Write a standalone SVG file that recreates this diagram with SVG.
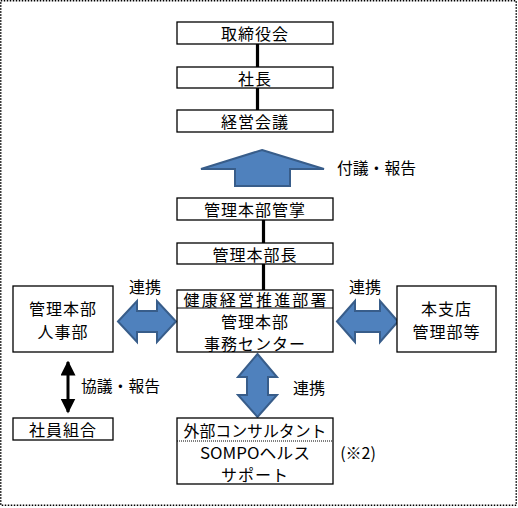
<svg xmlns="http://www.w3.org/2000/svg" width="518" height="508" viewBox="0 0 518 508">
<style>
text{font-family:"Noto Sans CJK JP","Noto Sans",sans-serif;font-size:16px;fill:#000;dominant-baseline:central;text-anchor:middle}
.box{fill:#fff;stroke:#000;stroke-width:1.3}
.blue{fill:#4F81BD;stroke:#385D8A;stroke-width:2;stroke-linejoin:miter}
.ln{stroke:#000;stroke-width:3.2;fill:none}
</style>
<defs>
<marker id="ah" viewBox="0 0 10 10" refX="9" refY="5" markerWidth="5" markerHeight="5" orient="auto-start-reverse" markerUnits="strokeWidth">
<path d="M0,0 L10,5 L0,10 z" fill="#000"/>
</marker>
</defs>
<rect x="0.75" y="0.75" width="515.5" height="504.5" fill="#fff" stroke="#000" stroke-width="1.5" stroke-dasharray="1.5,1.5"/>
<g id="connectors">
<line class="ln" x1="257.5" y1="44" x2="257.5" y2="67"/>
<line class="ln" x1="257.5" y1="88" x2="257.5" y2="110"/>
<line class="ln" x1="263.5" y1="220" x2="263.5" y2="243"/>
<line class="ln" x1="263.5" y1="264" x2="263.5" y2="290"/>
<polygon class="blue" points="262,150 324,169 290,169 290,186 235,186 235,169 201,169"/>
<text x="376.5" y="167" textLength="79" lengthAdjust="spacingAndGlyphs">付議・報告</text>
<polygon class="blue" points="118,321.5 137,301 137,311 157,311 157,301 176,321.5 157,342 157,332 137,332 137,342"/>
<text x="145" y="286">連携</text>
<polygon class="blue" points="337,321.5 355,301 355,311 380,311 380,301 398,321.5 380,342 380,332 355,332 355,342"/>
<text x="365" y="286">連携</text>
<polygon class="blue" points="257.5,354 277,377 268,377 268,395 277,395 257.5,417 238,395 247,395 247,377 238,377"/>
<text x="309" y="387">連携</text>
<line stroke="#000" stroke-width="3" x1="68" y1="362" x2="68" y2="412" marker-start="url(#ah)" marker-end="url(#ah)"/>
<text x="120.5" y="385" textLength="79" lengthAdjust="spacingAndGlyphs">協議・報告</text>
<text x="358" y="452">(※2)</text>
</g>
<g id="n1"><rect class="box" x="177" y="22" width="156" height="22"/><text x="255" y="33" letter-spacing="1">取締役会</text></g>
<g id="n2"><rect class="box" x="177" y="67" width="156" height="21"/><text x="255" y="77.5" letter-spacing="1">社長</text></g>
<g id="n3"><rect class="box" x="177" y="110" width="156" height="22"/><text x="255" y="121" letter-spacing="1">経営会議</text></g>
<g id="n4"><rect class="box" x="177" y="198" width="156" height="22"/><text x="255" y="209" letter-spacing="1">管理本部管掌</text></g>
<g id="n5"><rect class="box" x="177" y="243" width="156" height="21"/><text x="255" y="253.5" letter-spacing="1">管理本部長</text></g>
<g id="n6"><rect class="box" x="177" y="290" width="156" height="62"/><line x1="177" y1="308" x2="333" y2="308" stroke="#000" stroke-width="1"/>
<text x="255" y="299" font-size="15" textLength="143" lengthAdjust="spacing">健康経営推進部署</text>
<text x="255" y="321" letter-spacing="1">管理本部</text>
<text x="255" y="343" letter-spacing="1">事務センター</text></g>
<g id="n7"><rect class="box" x="13" y="286" width="100" height="66"/><text x="63" y="307.5" letter-spacing="1">管理本部</text><text x="63" y="331" letter-spacing="1">人事部</text></g>
<g id="n8"><rect class="box" x="397" y="286" width="99" height="66"/><text x="446.5" y="308" letter-spacing="1">本支店</text><text x="446.5" y="331" letter-spacing="1">管理部等</text></g>
<g id="n9"><rect class="box" x="13" y="418" width="100" height="22"/><text x="63" y="429" letter-spacing="1">社員組合</text></g>
<g id="n10"><rect class="box" x="177" y="418" width="156" height="66"/><line x1="177" y1="441" x2="333" y2="441" stroke="#000" stroke-width="1" stroke-dasharray="1,1"/>
<text x="255" y="430" textLength="143" lengthAdjust="spacingAndGlyphs">外部コンサルタント</text>
<text x="255" y="452" textLength="110" lengthAdjust="spacingAndGlyphs">SOMPOヘルス</text>
<text x="255" y="474" letter-spacing="1">サポート</text></g>
</svg>
